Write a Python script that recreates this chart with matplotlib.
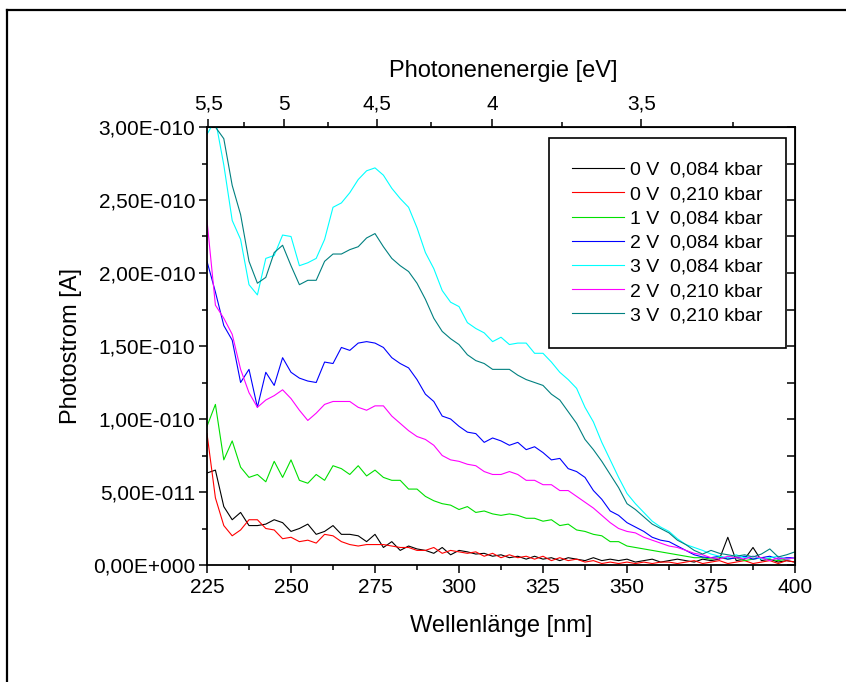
import numpy as np
import matplotlib.pyplot as plt
from matplotlib.lines import Line2D
from matplotlib.ticker import MultipleLocator, FixedLocator

plt.rcParams['font.family'] = ['Liberation Sans', 'DejaVu Sans']

# wavelength grid in nm, photocurrent values in units of 1e-11 A
wavelength = np.arange(225, 400.1, 2.5)

v0_084 = [6.3, 6.5, 4.0, 3.1, 3.6, 2.7, 2.7, 2.8, 3.1, 2.9,
          2.3, 2.5, 2.8, 2.1, 2.3, 2.7, 2.1, 2.1, 2.0, 1.6,
          2.1, 1.2, 1.6, 1.0, 1.3, 1.1, 1.0, 0.8, 1.2, 0.7,
          1.0, 0.9, 0.75, 0.8, 0.6, 0.7, 0.5, 0.6, 0.4, 0.6,
          0.4, 0.5, 0.3, 0.5, 0.4, 0.3, 0.5, 0.3, 0.4, 0.3,
          0.4, 0.2, 0.3, 0.4, 0.2, 0.3, 0.4, 0.3, 0.2, 0.4,
          0.3, 0.4, 1.9, 0.3, 0.4, 1.2, 0.3, 0.4, 0.2, 0.3,
          0.2]
v0_210 = [9.0, 4.6, 2.7, 2.0, 2.4, 3.1, 3.1, 2.5, 2.4, 1.8,
          1.9, 1.6, 1.7, 1.5, 2.1, 2.0, 1.6, 1.4, 1.3, 1.4,
          1.4, 1.4, 1.3, 1.2, 1.2, 1.0, 1.0, 1.2, 0.8, 1.0,
          0.9, 0.8, 0.9, 0.6, 0.8, 0.5, 0.7, 0.5, 0.6, 0.4,
          0.6, 0.3, 0.5, 0.3, 0.4, 0.2, 0.3, 0.1, 0.2, 0.1,
          0.2, 0.1, 0.2, 0.1, 0.2, 0.2, 0.1, 0.2, 0.3, 0.1,
          0.2, 0.3, 0.1, 0.2, 0.3, 0.1, 0.2, 0.3, 0.1, 0.3,
          0.2]
v1_084 = [9.5, 11.0, 7.2, 8.5, 6.7, 6.0, 6.2, 5.7, 7.1, 6.0,
          7.2, 5.8, 5.6, 6.2, 5.8, 6.8, 6.6, 6.2, 6.8, 6.1,
          6.5, 6.0, 5.8, 5.8, 5.2, 5.2, 4.7, 4.4, 4.2, 4.1,
          3.8, 4.0, 3.6, 3.7, 3.5, 3.4, 3.5, 3.4, 3.2, 3.2,
          3.0, 3.1, 2.7, 2.8, 2.4, 2.3, 2.1, 2.0, 1.6, 1.6,
          1.3, 1.2, 1.1, 1.0, 0.9, 0.8, 0.7, 0.6, 0.5, 0.5,
          0.4, 0.5, 0.4, 0.5, 0.3, 0.4, 0.5, 0.4, 0.3, 0.4,
          0.5]
v2_084 = [20.8, 18.7, 16.4, 15.4, 12.5, 13.4, 10.8, 13.2, 12.3, 14.2,
          13.2, 12.8, 12.6, 12.5, 13.9, 13.8, 14.9, 14.7, 15.2, 15.3,
          15.2, 14.9, 14.2, 13.8, 13.5, 12.7, 11.7, 11.2, 10.2, 10.0,
          9.5, 9.1, 9.0, 8.4, 8.7, 8.5, 8.2, 8.4, 7.9, 8.1,
          7.7, 7.2, 7.3, 6.6, 6.4, 6.0, 5.1, 4.5, 3.7, 3.4,
          2.9, 2.6, 2.3, 1.9, 1.7, 1.6, 1.3, 1.0, 0.7, 0.55,
          0.5, 0.6, 0.4, 0.5, 0.6, 0.4, 0.5, 0.6, 0.4, 0.5,
          0.5]
v3_084 = [29.5, 30.5, 27.4, 23.6, 22.3, 19.2, 18.5, 21.0, 21.2, 22.6,
          22.5, 20.5, 20.7, 21.0, 22.3, 24.5, 24.8, 25.5, 26.4, 27.0,
          27.2, 26.7, 25.8, 25.1, 24.5, 23.1, 21.4, 20.3, 18.8, 18.0,
          17.7, 16.6, 16.2, 15.9, 15.3, 15.6, 15.1, 15.2, 15.2, 14.5,
          14.5, 13.9, 13.2, 12.7, 12.1, 10.8, 9.8, 8.4, 7.2, 6.0,
          4.9, 4.2, 3.6, 3.0, 2.6, 2.3, 1.8, 1.4, 1.2, 1.0,
          0.75, 0.6, 0.5, 0.7, 0.5, 0.6, 0.4, 0.5, 0.6, 0.4,
          0.5]
v2_210 = [23.6, 17.8, 16.9, 15.8, 13.4, 11.8, 10.8, 11.3, 11.6, 12.0,
          11.4, 10.6, 9.9, 10.4, 11.0, 11.2, 11.2, 11.2, 10.8, 10.6,
          10.9, 10.9, 10.2, 9.7, 9.2, 8.8, 8.6, 8.2, 7.5, 7.2,
          7.1, 6.9, 6.8, 6.4, 6.2, 6.2, 6.4, 6.2, 5.8, 5.8,
          5.5, 5.5, 5.1, 5.1, 4.7, 4.3, 3.9, 3.4, 2.9, 2.5,
          2.3, 2.2, 1.9, 1.7, 1.5, 1.3, 1.2, 1.0, 0.8, 0.7,
          0.5, 0.4, 0.6, 0.5, 0.4, 0.6, 0.5, 0.3, 0.5, 0.4,
          0.5]
v3_210 = [31.0, 30.0, 29.2, 26.0, 24.0, 20.8, 19.3, 19.7, 21.4, 21.9,
          20.5, 19.2, 19.5, 19.5, 20.8, 21.3, 21.3, 21.6, 21.8, 22.4,
          22.7, 21.8, 21.0, 20.5, 20.1, 19.3, 18.2, 16.9, 16.0, 15.5,
          15.1, 14.4, 14.0, 13.8, 13.4, 13.4, 13.4, 13.0, 12.7, 12.5,
          12.3, 11.7, 11.3, 10.5, 9.7, 8.6, 7.9, 7.1, 6.2, 5.3,
          4.2, 3.8, 3.3, 2.8, 2.5, 2.2, 1.7, 1.4, 1.0, 0.75,
          1.0, 0.8, 0.7, 0.6, 0.7, 0.55, 0.75, 1.1, 0.55, 0.7,
          0.9]

series = [v0_084, v0_210, v1_084, v2_084, v3_084, v2_210, v3_210]
labels = ['0 V  0,084 kbar', '0 V  0,210 kbar', '1 V  0,084 kbar',
          '2 V  0,084 kbar', '3 V  0,084 kbar', '2 V  0,210 kbar',
          '3 V  0,210 kbar']
colors = ['#000000', '#ff0000', '#00e000', '#0000ff', '#00ffff', '#ff00ff', '#008080']

x_ticks = [225, 250, 275, 300, 325, 350, 375, 400]
y_ticks = [0, 5e-11, 1e-10, 1.5e-10, 2e-10, 2.5e-10, 3e-10]
y_tick_labels = ['0,00E+000', '5,00E-011', '1,00E-010', '1,50E-010',
                 '2,00E-010', '2,50E-010', '3,00E-010']
ev_ticks = [5.5, 5.0, 4.5, 4.0, 3.5]
ev_tick_labels = ['5,5', '5', '4,5', '4', '3,5']
ev_minor = [5.25, 4.75, 4.25, 3.75, 3.25]

HC = 1239.84  # nm*eV

fig = plt.figure(figsize=(8.46, 6.82), dpi=100)
ax = fig.add_axes([207/846, 1 - 565/682, 588/846, 438/682])

for vals, col, lab in zip(series, colors, labels):
    ax.plot(wavelength, np.array(vals) * 1e-11, color=col, lw=0.8, label=lab)

ax.set_xlim(225, 400)
ax.set_ylim(0, 3e-10)
ax.set_xticks(x_ticks)
ax.xaxis.set_minor_locator(MultipleLocator(12.5))
ax.set_yticks(y_ticks)
ax.set_yticklabels(y_tick_labels)
ax.yaxis.set_minor_locator(MultipleLocator(2.5e-11))
ax.tick_params(which='both', direction='out', top=False, right=False,
               width=1.1, labelsize=15)
ax.tick_params(which='major', length=5.5)
ax.tick_params(which='minor', length=3.5)
ax.tick_params(axis='x', pad=4)
ax.tick_params(axis='y', pad=3)
for sp in ax.spines.values():
    sp.set_linewidth(1.3)

# right side: inward ticks only
right = ax.secondary_yaxis('right')
right.yaxis.set_major_locator(MultipleLocator(2.5e-11))
right.tick_params(direction='in', length=5.5, width=1.1, labelright=False)

# top axis: photon energy
top = ax.secondary_xaxis('top', functions=(lambda x: HC / x, lambda e: HC / e))
top.xaxis.set_major_locator(FixedLocator(ev_ticks))
top.set_xticklabels(ev_tick_labels)
top.xaxis.set_minor_locator(FixedLocator(ev_minor))
top.tick_params(which='both', direction='out', width=1.1, labelsize=15, pad=4)
top.tick_params(which='major', length=5.5)
top.tick_params(which='minor', length=3.5)

fig.text(503/846, 1 - 71/682, 'Photonenenergie [eV]', fontsize=17,
         ha='center', va='center')

ax.set_xlabel('Wellenlänge [nm]', fontsize=17)
ax.xaxis.set_label_coords(0.5, -0.139)
ax.xaxis.label.set_va('center')
ax.set_ylabel('Photostrom [A]', fontsize=17)
ax.yaxis.set_label_coords(-0.231, 0.5)
ax.yaxis.label.set_va('center')

leg = ax.legend(loc='upper left', bbox_to_anchor=((549 - 207) / 588, (565 - 138) / 438),
                fontsize=14, frameon=True, fancybox=False, framealpha=1,
                edgecolor='black', borderpad=1.2, labelspacing=0.34,
                handlelength=2.65, handletextpad=0.3, borderaxespad=0)
leg.get_frame().set_linewidth(1.2)

# outer frame of the page (left and top edges visible)
fig.add_artist(Line2D([7/846, 7/846], [0, 1 - 10/682], transform=fig.transFigure,
                      color='black', lw=1.6))
fig.add_artist(Line2D([7/846, 1], [1 - 10/682, 1 - 10/682], transform=fig.transFigure,
                      color='black', lw=1.6))

fig.savefig('out.png', dpi=100)
